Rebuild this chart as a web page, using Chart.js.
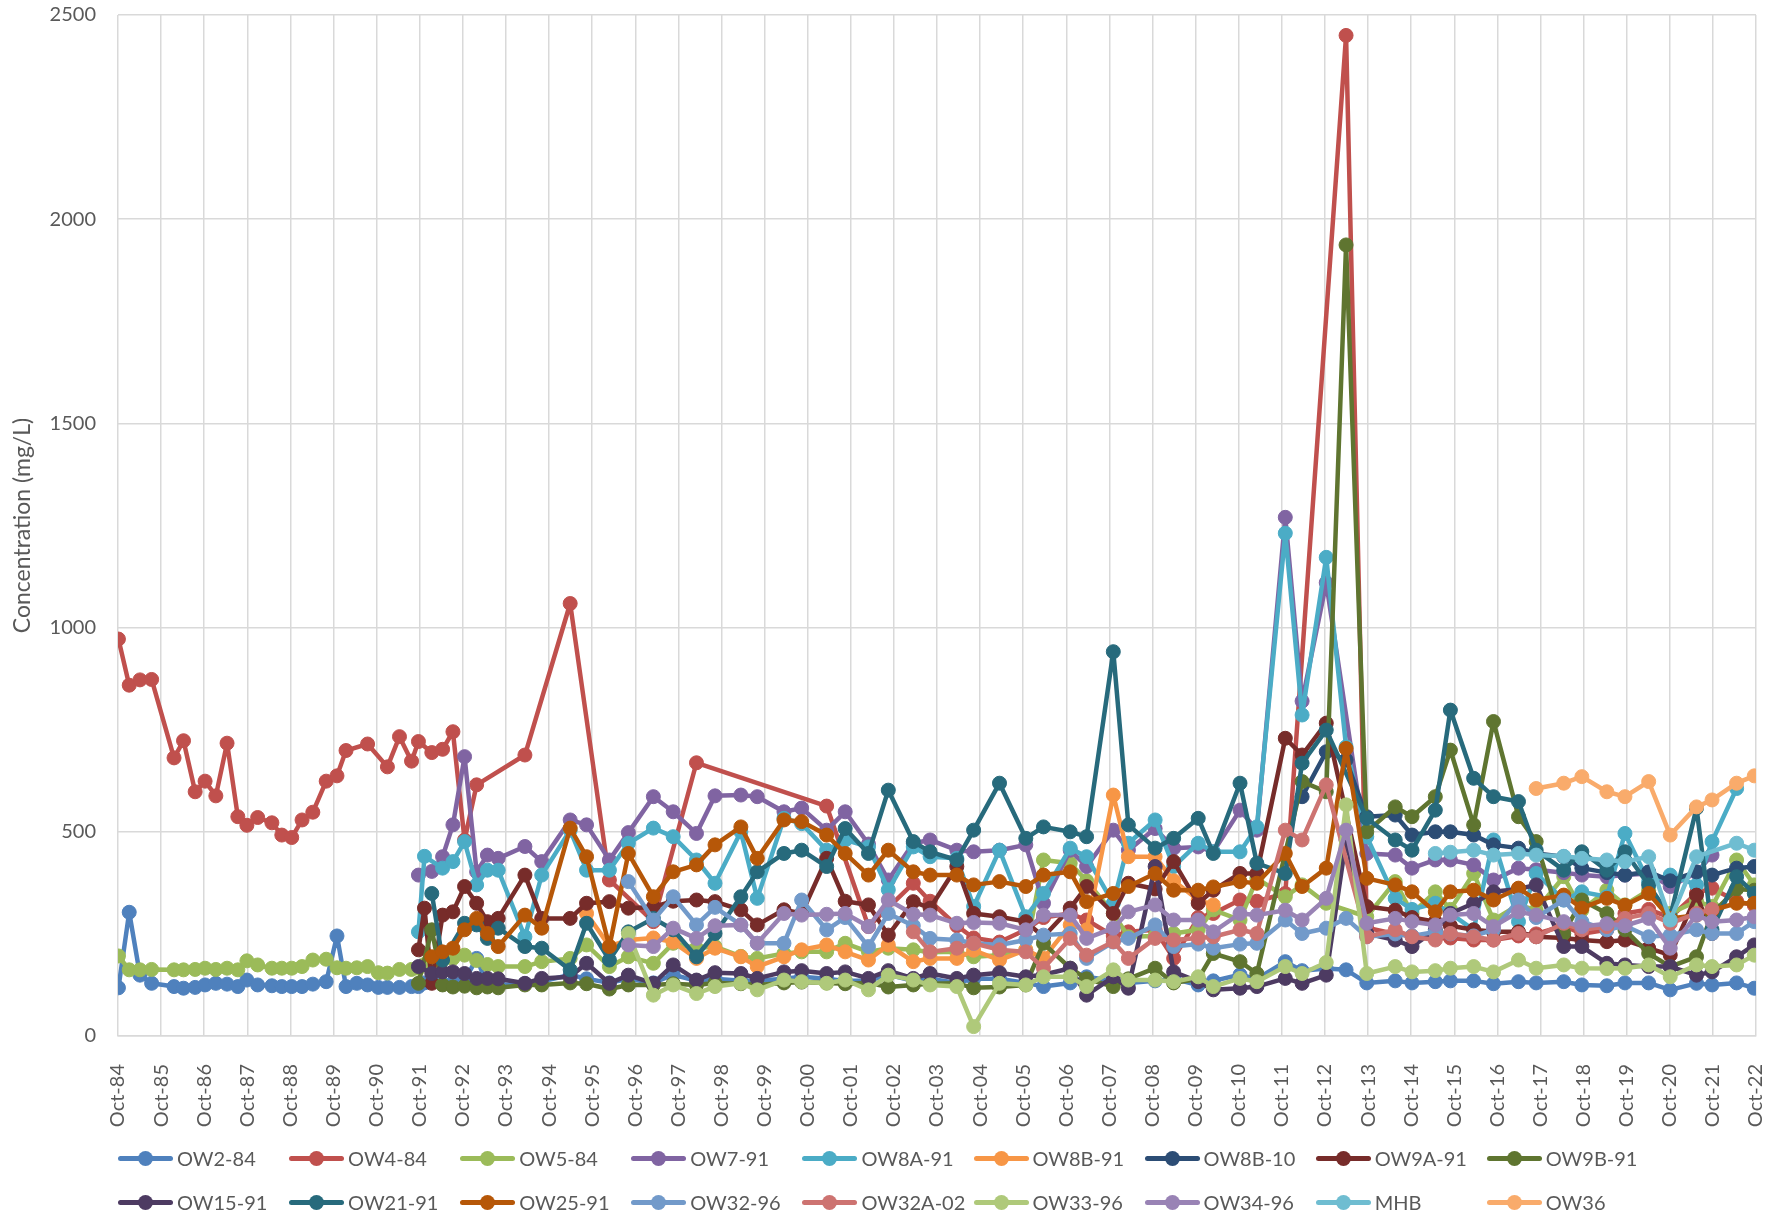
<!DOCTYPE html>
<html>
<head>
<meta charset="utf-8">
<title>Groundwater concentration history</title>
<script src="https://cdn.jsdelivr.net/npm/chart.js@4.4.1/dist/chart.umd.min.js"></script>
<style>
  html, body { margin: 0; padding: 0; background: #ffffff; }
  #wrap { position: relative; width: 1783px; height: 1218px; }
  #chart { position: absolute; left: 0; top: 0; }
  #legend { position: absolute; left: 0; top: 0; width: 1783px; height: 1218px; pointer-events: none;
            font-family: Lato, "Open Sans", "Liberation Sans", sans-serif; font-size: 20px; color: #595959; }
  .item { position: absolute; display: flex; align-items: center; height: 24px; white-space: nowrap; }
  .sw { position: relative; width: 55px; height: 24px; margin-right: 4px; flex: none; }
  .sw .ln { position: absolute; left: 0; right: 0; top: 9.5px; height: 5px; border-radius: 2.5px; }
  .sw .dot { position: absolute; left: 20px; top: 4.5px; width: 15px; height: 15px; border-radius: 50%; }
</style>
</head>
<body>
<div id="wrap">
  <canvas id="chart" width="1783" height="1218"></canvas>
  <div id="legend"></div>
</div>
<script>
const _ = null;

// Axis tick labels (one per October)
const tickLabels = ['Oct-84','Oct-85','Oct-86','Oct-87','Oct-88','Oct-89','Oct-90','Oct-91','Oct-92','Oct-93',
  'Oct-94','Oct-95','Oct-96','Oct-97','Oct-98','Oct-99','Oct-00','Oct-01','Oct-02','Oct-03','Oct-04','Oct-05',
  'Oct-06','Oct-07','Oct-08','Oct-09','Oct-10','Oct-11','Oct-12','Oct-13','Oct-14','Oct-15','Oct-16','Oct-17',
  'Oct-18','Oct-19','Oct-20','Oct-21','Oct-22'];

// Sampling dates (decimal years): quarterly 1984-1991, then the monitoring rounds
const datesEarly = [1984.76,1985.01,1985.26,1985.53,1986.05,1986.27,1986.54,1986.77,1987.02,1987.28,
  1987.53,1987.74,1987.99,1988.32,1988.55,1988.78,1989.02,1989.27,1989.58,1989.83,1990.04,1990.29,
  1990.54,1990.79,1991.0,1991.28,1991.56];
const datesLater = [1991.72,1991.86,1992.03,1992.28,1992.52,1992.79,1993.07,1993.32,1993.57,1994.19,
  1994.58,1995.24,1995.62,1996.15,1996.59,1997.17,1997.63,1998.17,1998.6,1999.2,
  1999.58,2000.2,2000.61,2001.19,2001.62,2002.16,2002.62,2003.2,2003.59,2004.21,
  2004.6,2005.2,2005.81,2006.22,2006.84,2007.22,2007.84,2008.19,2008.81,2009.24,
  2009.81,2010.16,2010.78,2011.17,2011.83,2012.22,2012.78,2013.24,2013.72,2014.38,
  2014.77,2015.31,2015.66,2016.2,2016.66,2017.24,2017.65,2018.29,2018.71,2019.29,
  2019.71,2020.26,2020.76,2021.37,2021.73,2022.3,2022.71];

// Concentrations (mg/L)
const ow2_84_early = [118,303,149,129,121,117,119,125,129,127,121,137,125,123,121,121,121,127,133,245,121,129,125,119,119,119,121];
const ow4_84_early = [972,859,872,873,681,723,598,624,588,717,537,516,535,522,492,486,529,548,624,637,699,_,715,_,659,733,673];
const ow5_84_early = [196,162,162,163,162,162,163,166,163,166,162,184,174,166,166,166,170,186,188,167,166,167,170,155,154,163,163];

const ow2_84 = [121,130,135,128,130,135,190,125,125,128, 133,150,140,130,140,130,150,135,140,135,
  135,140,145,140,135,135,150,135,140,130, 140,140,130,121,130,145,135,130,135,140,
  125,135,150,140,182,160,165,162,130,135, 130,133,135,135,128,133,130,133,125,123,
  130,130,113,129,125,130,117];
const ow4_84 = [721,_,694,702,745,480,615,_,_,688, _,1059,_,382,_,280,_,669,_,_,
  _,_,_,563,_,268,_,374,330,270, 240,230,260,290,300,284,245,255,260,190,
  290,300,333,330,349,_,_,2450,265,250, 245,240,240,235,235,245,250,270,250,260,
  300,310,290,350,362,330,320];
const ow5_84 = [166,175,180,185,190,198,185,175,170,170, 182,190,223,170,194,178,227,215,219,195,
  190,202,206,206,227,206,215,211,205,206, 194,198,211,431,423,380,300,243,245,251,
  260,309,284,386,341,370,325,_,292,378, 300,353,310,398,284,321,308,390,308,357,
  321,357,300,330,317,431,370];
const ow7_91 = [394,_,403,439,517,684,402,443,435,464, 427,529,517,431,498,586,549,496,588,590,
  586,549,558,504,549,470,382,472,480,455, 451,455,468,325,455,415,504,455,508,460,
  463,451,553,504,1270,820,1110,_,447,443, 411,431,431,419,382,411,407,400,394,390,
  394,398,366,400,443,_,_];
const ow8a_91 = [255,440,_,411,427,476,370,406,406,243, 394,504,406,406,472,509,488,431,374,500,
  337,533,520,455,480,463,358,463,439,435, 317,455,292,349,460,439,325,472,529,415,
  472,451,451,512,1231,786,1172,708,488,337, 310,325,300,260,480,280,398,333,353,341,
  496,378,394,370,476,606,_];
const ow8b_91 = [_,_,_,_,_,_,_,_,_,_, _,_,300,220,235,240,230,190,215,194,
  170,194,211,223,206,186,223,182,190,190, 210,186,211,190,272,260,590,439,439,380,
  333,321,_,_,_,_,_,_,_,_, _,_,_,_,_,_,_,_,_,_,
  _,_,_,_,_,_,_];
const ow8b_10 = [_,_,_,_,_,_,_,_,_,_, _,_,_,_,_,_,_,_,_,_,
  _,_,_,_,_,_,_,_,_,_, _,_,_,_,_,_,_,_,_,_,
  _,_,_,_,_,586,696,676,537,541, 492,500,500,492,468,460,447,439,411,400,
  394,402,380,402,394,411,415];
const ow9a_91 = [211,313,129,296,304,366,325,280,288,394, 288,288,325,329,313,316,330,333,329,309,
  272,309,300,435,330,321,247,329,313,415, 300,292,280,243,313,366,300,374,360,427,
  325,357,398,398,729,688,766,_,317,308, 290,280,270,260,255,255,243,240,235,231,
  235,215,198,345,251,_,_];
const ow9b_91 = [129,_,260,125,120,122,118,120,118,125, 125,130,128,115,125,125,128,125,130,128,
  125,130,132,130,128,130,120,125,128,129, 118,120,125,227,166,140,121,140,166,130,
  140,202,182,153,_,623,598,1937,500,561, 537,586,700,517,770,537,476,251,333,300,
  260,202,170,194,300,360,357];
const ow15_91 = [170,_,153,157,157,153,141,141,140,129, 141,145,178,129,149,129,174,137,155,153,
  141,157,160,153,157,141,160,141,153,141, 149,155,145,150,166,100,145,117,415,157,
  133,113,117,121,141,129,149,480,251,235, 219,260,300,325,353,360,370,219,219,178,
  174,170,170,149,157,194,223];
const ow21_91 = [_,_,349,186,_,276,272,239,264,219, 215,162,276,186,255,288,260,194,251,341,
  402,447,455,415,508,447,602,476,451,431, 504,619,484,512,500,488,941,517,460,484,
  533,447,619,423,398,668,749,_,533,480, 455,553,798,631,586,574,455,406,451,406,
  451,370,292,558,260,390,349];
const ow25_91 = [_,_,194,206,215,260,288,251,219,296, 264,509,439,219,447,341,402,419,468,512,
  435,529,525,492,447,394,455,402,394,394, 370,378,366,394,402,329,349,366,398,357,
  357,365,378,374,447,366,411,704,386,370, 353,304,353,357,333,362,333,345,313,337,
  320,349,288,296,308,325,325];
const ow32_96 = [_,_,_,_,_,_,_,_,_,_, _,_,_,_,378,284,341,272,315,272,
  227,227,333,260,290,219,300,270,239,235, 227,223,235,247,251,190,230,239,272,219,
  225,215,225,227,284,251,264,288,243,250, 245,255,250,245,260,333,290,333,280,260,
  270,243,247,260,251,251,280];
const ow32a_02 = [_,_,_,_,_,_,_,_,_,_, _,_,_,_,_,_,_,_,_,_,
  _,_,_,_,_,_,_,255,206,215, 227,211,206,166,239,198,231,190,239,235,
  240,243,260,251,504,480,615,_,243,260, 243,235,251,243,235,251,243,276,260,268,
  288,300,276,300,310,_,_];
const ow33_96 = [_,_,_,_,_,_,_,_,_,_, _,_,_,_,251,100,125,104,121,129,
  113,137,133,129,137,113,149,137,125,121, 23,129,125,145,145,121,162,137,137,133,
  145,121,141,133,170,153,180,566,153,170, 157,160,166,170,157,186,166,174,166,165,
  166,174,145,174,170,174,198];
const ow34_96 = [_,_,_,_,_,_,_,_,_,_, _,_,_,_,223,219,264,239,270,272,
  227,300,296,298,300,268,333,298,296,276, 278,276,260,296,296,239,264,304,321,284,
  284,255,300,296,308,284,337,504,276,288, 280,272,296,300,268,304,296,280,268,275,
  270,288,215,296,280,284,292];
const mhb = [_,_,_,_,_,_,_,_,_,_, _,_,_,_,_,_,_,_,_,_,
  _,_,_,_,_,_,_,_,_,_, _,_,_,_,_,_,_,_,_,_,
  _,_,_,_,_,_,_,_,_,_, _,447,450,455,443,447,443,440,435,431,
  427,439,284,439,_,472,455];
const ow36 = [_,_,_,_,_,_,_,_,_,_, _,_,_,_,_,_,_,_,_,_,
  _,_,_,_,_,_,_,_,_,_, _,_,_,_,_,_,_,_,_,_,
  _,_,_,_,_,_,_,_,_,_, _,_,_,_,_,_,606,619,635,598,
  586,623,492,561,578,619,637];

function zip(dates, vals) {
  const out = [];
  dates.forEach((d, i) => { if (vals[i] !== null) out.push({ x: d, y: vals[i] }); });
  return out;
}

const seriesDefs = [
  ['OW2-84',   '#4F81BD', zip(datesEarly, ow2_84_early).concat(zip(datesLater, ow2_84))],
  ['OW4-84',   '#C0504D', zip(datesEarly, ow4_84_early).concat(zip(datesLater, ow4_84))],
  ['OW5-84',   '#9BBB59', zip(datesEarly, ow5_84_early).concat(zip(datesLater, ow5_84))],
  ['OW7-91',   '#8064A2', zip(datesLater, ow7_91)],
  ['OW8A-91',  '#4BACC6', zip(datesLater, ow8a_91)],
  ['OW8B-91',  '#F79646', zip(datesLater, ow8b_91)],
  ['OW8B-10',  '#2C4D75', zip(datesLater, ow8b_10)],
  ['OW9A-91',  '#772C2A', zip(datesLater, ow9a_91)],
  ['OW9B-91',  '#5F7530', zip(datesLater, ow9b_91)],
  ['OW15-91',  '#4D3B62', zip(datesLater, ow15_91)],
  ['OW21-91',  '#276A7C', zip(datesLater, ow21_91)],
  ['OW25-91',  '#B65708', zip(datesLater, ow25_91)],
  ['OW32-96',  '#729ACA', zip(datesLater, ow32_96)],
  ['OW32A-02', '#CD7371', zip(datesLater, ow32a_02)],
  ['OW33-96',  '#AFC97A', zip(datesLater, ow33_96)],
  ['OW34-96',  '#9983B5', zip(datesLater, ow34_96)],
  ['MHB',      '#6FBDD1', zip(datesLater, mhb)],
  ['OW36',     '#F9AB6B', zip(datesLater, ow36)]
];

const n = seriesDefs.length;
const datasets = seriesDefs.map(([label, color, data], i) => ({
  label, data,
  borderColor: color, backgroundColor: color,
  pointBackgroundColor: color, pointBorderColor: color,
  borderWidth: 4.5, pointRadius: 7, pointBorderWidth: 1, pointHoverRadius: 7,
  borderJoinStyle: 'round', borderCapStyle: 'round',
  tension: 0, spanGaps: true, fill: false,
  order: n - 1 - i          // later series painted on top
}));

const FONT = 'Lato, "Open Sans", "Liberation Sans", sans-serif';
const TEXT = '#595959';
const GRID = '#d9d9d9';
const NONE = 'rgba(0,0,0,0)';

new Chart(document.getElementById('chart'), {
  type: 'line',
  data: { datasets },
  options: {
    responsive: false,
    animation: false,
    devicePixelRatio: 1,
    layout: { padding: { left: 0, top: 15, right: 27, bottom: 0 } },
    plugins: { legend: { display: false }, tooltip: { enabled: false } },
    scales: {
      x: {
        type: 'linear',
        min: 1984.75, max: 2022.75,
        afterBuildTicks: (scale) => { scale.ticks = tickLabels.map((lbl, i) => ({ value: 1984.75 + i })); },
        afterFit: (scale) => { scale.height = 182; },
        grid: { color: GRID, lineWidth: 1.5, drawTicks: true, tickLength: 28, tickColor: NONE },
        border: { color: GRID, width: 1.5 },
        ticks: {
          autoSkip: false, maxRotation: 90, minRotation: 90, padding: 0,
          color: TEXT, font: { family: FONT, size: 20 },
          callback: (v, i) => tickLabels[i]
        }
      },
      y: {
        min: 0, max: 2500,
        afterFit: (scale) => { scale.width = 118; },
        grid: { color: GRID, lineWidth: 1.5, drawTicks: true, tickLength: 22, tickColor: NONE },
        border: { display: false },
        ticks: { stepSize: 500, padding: 0, color: TEXT, font: { family: FONT, size: 20 },
                 callback: (v) => String(v) },
        title: {
          display: true, text: 'Concentration (mg/L)', color: TEXT,
          font: { family: FONT, size: 23 }, padding: { top: 9, bottom: 0 }
        }
      }
    }
  }
});

// Legend: two rows of nine, fixed column pitch
const legend = document.getElementById('legend');
datasets.forEach((ds, i) => {
  const row = Math.floor(i / 9), col = i % 9;
  const item = document.createElement('div');
  item.className = 'item';
  item.style.left = (118 + col * 171.1) + 'px';
  item.style.top = ((row === 0 ? 1158 : 1202) - 12) + 'px';
  item.innerHTML = '<span class="sw"><span class="ln" style="background:' + ds.borderColor +
    '"></span><span class="dot" style="background:' + ds.borderColor + '"></span></span>' +
    '<span class="tx"></span>';
  item.querySelector('.tx').textContent = ds.label;
  legend.appendChild(item);
});
</script>
</body>
</html>
